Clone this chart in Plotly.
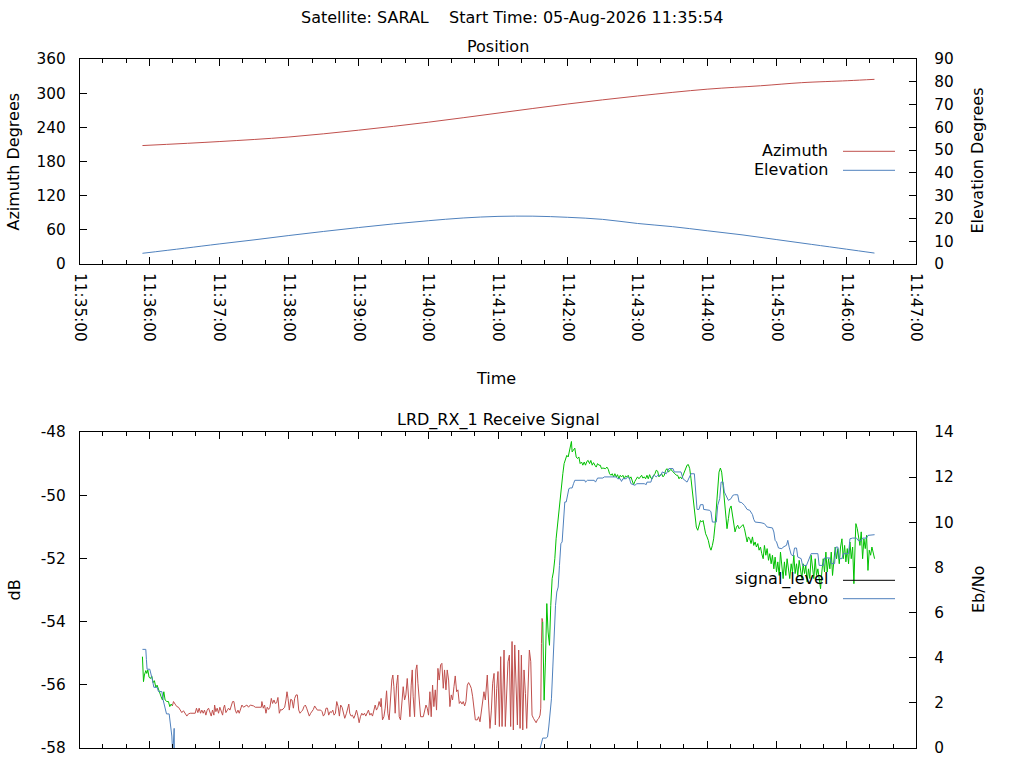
import pandas as pd
import plotly.graph_objects as go

# pass start reference, all times below are seconds after 11:35:00
base = pd.Timestamp("2026-08-05 11:35:00")
t_end = base + pd.Timedelta(minutes=12)

# position
pos_sec = [54, 120, 180, 240, 300, 360, 420, 480, 540, 586, 621, 661, 684]
azimuth = [208, 215, 223, 235, 249, 265, 281, 295, 307, 313, 318.4, 321.9, 324.3]

el_sec = [54, 90, 120, 150, 180, 210, 240, 270, 300, 330, 360, 390, 420, 450, 480,
          510, 540, 570, 600, 630, 660, 684]
elevation = [4.7, 6.9, 8.8, 10.6, 12.5, 14.3, 16.0, 17.6, 19.0, 20.2, 20.9, 21.0, 20.5,
             19.6, 17.8, 16.4, 14.6, 12.8, 10.7, 8.6, 6.5, 4.8]

az_ticks = [0, 60, 120, 180, 240, 300, 360]
el_ticks = [0, 10, 20, 30, 40, 50, 60, 70, 80, 90]
db_ticks = [-58, -56, -54, -52, -50, -48]
ebno_ticks = [0, 2, 4, 6, 8, 10, 12, 14]

# signal level (dB) split by lock state: green = locked, red = not locked
sig_locked_a = [
    (54.0, -55.11), (54.9, -55.90), (55.7, -55.69), (56.9, -55.55), (57.7, -55.64),
    (58.6, -55.53), (59.7, -55.76), (60.9, -55.80), (62.0, -55.72), (63.2, -55.93),
    (64.3, -55.87), (65.5, -56.08), (66.6, -56.01), (67.8, -56.16), (68.9, -56.27),
    (70.1, -56.38), (71.2, -56.48), (72.4, -56.22), (73.5, -56.48), (75.0, -56.53),
    (76.4, -56.53), (77.5, -56.69), (78.7, -56.61), (79.8, -56.67),
]

sig_unlocked = [
    (79.8, -56.67), (80.7, -56.53), (82.1, -56.61), (83.6, -56.69), (85.0, -56.71),
    (86.5, -56.80), (87.9, -56.88), (89.3, -56.82), (90.8, -56.90), (92.2, -56.99),
    (93.6, -56.92), (95.1, -56.90), (99.4, -56.90), (100.5, -56.74), (101.7, -56.88),
    (102.8, -56.74), (104.0, -56.90), (105.1, -56.80), (106.3, -56.90), (107.4, -56.80),
    (108.6, -56.96), (109.7, -56.80), (110.9, -56.74), (112.0, -56.90), (113.2, -56.99),
    (114.3, -56.80), (115.5, -56.96), (116.1, -56.64), (117.2, -56.85), (118.3, -56.74),
    (119.5, -56.90), (120.6, -56.71), (121.8, -56.85), (123.0, -56.96), (123.8, -56.74),
    (124.7, -56.64), (125.8, -56.88), (127.0, -56.80), (128.1, -56.74), (129.3, -56.80),
    (130.4, -56.67), (131.6, -56.53), (132.7, -56.53), (133.9, -56.80), (135.0, -56.90),
    (136.2, -56.80), (137.3, -56.90), (138.5, -56.71), (139.6, -56.64), (141.0, -56.71),
    (142.5, -56.67), (143.9, -56.64), (145.3, -56.71), (146.8, -56.64), (149.7, -56.67),
    (151.1, -56.71), (156.3, -56.71), (156.8, -56.53), (158.0, -56.74), (159.1, -56.64),
    (160.3, -56.90), (161.4, -56.71), (162.6, -56.78), (163.7, -56.71), (164.9, -56.43),
    (166.0, -56.59), (167.2, -56.48), (168.3, -56.59), (169.5, -56.57), (170.6, -56.40),
    (171.8, -56.90), (172.9, -56.78), (174.1, -56.80), (175.2, -56.74), (176.4, -56.71),
    (177.5, -56.48), (178.4, -56.22), (179.3, -56.43), (180.4, -56.80), (181.6, -56.46),
    (182.7, -56.48), (183.9, -56.74), (185.0, -56.43), (186.2, -56.32), (187.3, -56.32),
    (188.5, -56.80), (189.6, -56.90), (190.7, -56.85), (191.9, -56.80), (193.0, -56.69),
    (194.2, -56.64), (195.3, -56.74), (196.5, -56.88), (197.6, -56.99), (198.8, -56.90),
    (199.9, -56.85), (201.1, -56.78), (202.2, -56.67), (203.4, -56.74), (204.5, -56.80),
    (207.4, -56.80), (208.6, -56.85), (209.7, -56.99), (210.9, -56.92), (212.0, -56.74),
    (213.2, -56.74), (214.3, -56.96), (215.5, -56.85), (216.6, -56.88), (217.8, -56.80),
    (218.9, -56.96), (220.1, -56.90), (221.2, -56.53), (222.4, -56.69), (223.5, -56.99),
    (224.6, -56.64), (225.8, -56.71), (226.9, -56.90), (228.1, -57.06), (229.6, -56.90),
    (230.7, -56.74), (231.6, -56.61), (232.4, -56.90), (233.6, -56.99), (234.7, -56.96),
    (235.9, -57.06), (237.0, -56.96), (238.2, -56.80), (239.3, -56.96), (240.5, -57.20),
    (241.6, -57.01), (242.8, -56.90), (243.9, -56.96), (245.1, -56.90), (246.2, -56.99),
    (247.4, -56.90), (248.5, -56.80), (249.7, -56.96), (250.8, -56.90), (252.0, -56.99),
    (253.1, -56.85), (254.3, -56.64), (255.4, -56.80), (256.6, -56.71), (257.7, -56.53),
    (258.9, -56.69), (259.4, -56.43), (260.6, -57.11), (261.8, -57.01), (262.9, -56.74),
    (264.1, -56.19), (265.2, -56.90), (266.3, -57.11), (267.5, -56.22), (268.6, -55.85),
    (269.5, -55.69), (270.4, -56.06), (271.5, -56.90), (272.7, -56.01), (273.8, -55.69),
    (275.0, -57.01), (276.1, -57.11), (277.3, -56.53), (278.4, -56.06), (279.6, -56.48),
    (280.7, -56.32), (281.9, -55.80), (283.0, -56.38), (284.2, -57.01), (285.3, -56.01),
    (286.2, -55.53), (287.0, -56.38), (288.2, -57.01), (289.3, -55.53), (290.2, -55.37),
    (291.1, -55.95), (292.2, -56.53), (293.4, -57.01), (295.7, -57.01), (296.8, -56.80),
    (298.0, -56.64), (299.1, -56.74), (300.2, -56.96), (301.4, -56.22), (302.5, -57.01),
    (303.7, -56.01), (304.8, -56.69), (306.0, -56.16), (307.1, -56.80), (308.3, -55.48),
    (309.4, -55.85), (310.6, -55.37), (311.7, -55.32), (312.9, -56.11), (314.0, -55.53),
    (315.2, -56.16), (316.3, -55.53), (317.5, -55.85), (318.6, -56.69), (319.8, -56.32),
    (320.9, -56.48), (322.1, -56.06), (323.2, -55.72), (324.4, -56.22), (325.5, -56.16),
    (326.7, -56.59), (327.8, -56.53), (329.0, -56.61), (330.1, -56.53), (331.3, -56.67),
    (332.4, -56.53), (333.6, -56.01), (334.7, -55.93), (335.9, -56.01), (337.0, -56.11),
    (338.2, -56.38), (339.3, -56.69), (340.5, -57.11), (342.2, -57.11), (343.3, -57.01),
    (344.5, -57.17), (345.6, -56.85), (346.8, -56.48), (347.9, -56.22), (349.1, -56.48),
    (350.2, -56.01), (350.8, -55.69), (352.0, -56.64), (353.1, -57.38), (354.3, -56.80),
    (355.4, -55.95), (356.6, -55.64), (357.7, -57.27), (358.9, -56.11), (360.0, -55.58),
    (361.2, -57.32), (362.3, -55.11), (363.5, -57.32), (364.6, -56.11), (365.2, -54.90),
    (366.3, -57.32), (367.5, -56.16), (368.6, -55.27), (369.8, -55.06), (370.9, -57.32),
    (372.1, -54.63), (373.2, -57.43), (374.4, -54.74), (375.5, -55.95), (376.7, -57.27),
    (377.8, -54.90), (379.0, -57.38), (380.1, -55.06), (381.3, -57.43), (382.4, -55.53),
    (383.6, -56.27), (384.7, -57.38), (385.9, -56.06), (387.0, -54.90), (388.2, -55.27),
    (389.3, -56.96), (390.5, -57.06), (391.6, -57.11), (392.8, -57.20), (393.9, -57.11),
    (395.1, -57.06), (396.2, -56.96), (396.8, -56.74), (397.4, -54.69), (397.9, -53.90),
    (398.5, -54.01),
]

sig_locked_b = [
    (398.5, -54.01), (399.7, -56.49), (400.8, -55.28), (402.0, -53.43), (403.1, -54.33),
    (404.3, -54.75), (405.4, -53.49), (406.6, -52.64), (407.7, -52.43), (408.9, -52.01),
    (410.0, -51.38), (411.2, -50.95), (412.3, -50.53), (413.5, -49.95), (414.6, -49.58),
    (415.8, -49.32), (416.9, -49.00), (418.1, -48.84), (419.2, -48.74), (420.4, -48.79),
    (421.5, -48.58), (422.7, -48.47), (423.2, -48.30), (423.8, -48.63), (425.0, -48.58),
    (426.1, -48.51), (427.3, -48.79), (428.4, -48.84), (429.6, -48.79), (430.7, -49.00),
    (431.9, -48.95), (433.0, -49.05), (434.2, -48.95), (435.3, -49.05), (436.5, -48.93),
    (437.6, -48.90), (438.8, -49.00), (439.9, -48.90), (441.1, -49.05), (442.2, -48.97),
    (443.4, -49.05), (444.5, -49.11), (445.7, -49.00), (446.8, -49.05), (448.0, -49.05),
    (449.1, -49.16), (450.3, -49.14), (451.4, -49.14), (452.6, -49.16), (453.7, -49.11),
    (454.9, -49.18), (456.0, -49.32), (457.2, -49.37), (458.3, -49.32), (459.5, -49.42),
    (460.6, -49.32), (461.8, -49.42), (462.9, -49.35), (464.0, -49.48), (465.2, -49.37),
    (466.3, -49.42), (467.5, -49.37), (468.6, -49.48), (469.8, -49.39), (470.9, -49.42),
    (472.1, -49.37), (473.2, -49.48), (474.4, -49.42), (475.5, -49.58), (476.7, -49.67),
    (477.8, -49.56), (479.0, -49.50), (480.1, -49.42), (481.3, -49.48), (482.4, -49.42),
    (483.6, -49.37), (484.7, -49.46), (485.9, -49.42), (487.0, -49.48), (488.2, -49.37),
    (489.3, -49.48), (490.5, -49.35), (491.6, -49.46), (492.8, -49.48), (493.9, -49.37),
    (495.1, -49.32), (496.2, -49.21), (497.4, -49.24), (498.5, -49.42), (499.7, -49.35),
    (500.8, -49.32), (502.0, -49.42), (503.1, -49.37), (504.3, -49.21), (505.4, -49.16),
    (506.6, -49.27), (507.7, -49.24), (508.9, -49.18), (510.0, -49.24), (511.2, -49.27),
    (512.3, -49.32), (513.5, -49.37), (514.6, -49.37), (515.8, -49.48), (516.9, -49.42),
    (518.1, -49.48), (519.2, -49.37), (520.4, -49.27), (521.5, -49.11), (522.7, -49.05),
    (523.8, -49.03), (525.0, -49.16), (526.1, -49.48), (527.3, -49.85), (528.4, -50.22),
    (529.6, -50.74), (530.7, -51.01), (531.9, -51.11), (533.0, -50.95), (534.2, -50.80),
    (535.3, -50.85), (536.5, -50.80), (537.6, -51.01), (538.7, -51.22), (539.9, -51.32),
    (541.0, -51.43), (542.2, -51.64), (543.3, -51.74), (544.5, -51.59), (545.6, -51.38),
    (546.8, -50.95), (547.9, -50.43), (549.1, -49.90), (550.2, -49.27), (551.4, -49.14),
    (552.5, -49.27), (553.7, -49.69), (554.8, -50.16), (556.0, -50.58), (557.1, -51.06),
    (558.3, -50.74), (559.4, -50.43), (560.6, -50.34), (561.7, -50.58), (562.9, -50.95),
    (564.0, -51.16), (565.2, -51.01), (566.3, -50.95), (567.5, -51.06), (568.6, -51.01),
    (569.8, -50.95), (570.9, -50.93), (572.1, -51.06), (573.2, -51.27), (574.4, -51.48),
    (575.5, -51.32), (576.7, -51.38), (577.8, -51.53), (579.0, -51.32), (580.1, -51.59),
    (581.3, -51.48), (582.4, -51.64), (583.6, -51.53), (584.7, -51.74), (585.9, -51.64),
    (587.0, -51.85), (588.2, -52.01), (589.3, -51.59), (590.5, -51.90), (591.6, -51.69),
    (592.8, -52.06), (593.9, -51.85), (595.1, -52.17), (596.2, -51.90), (597.4, -52.33),
    (598.5, -51.96), (599.7, -52.43), (600.8, -52.11), (602.0, -52.54), (603.1, -51.80),
    (604.3, -52.33), (605.4, -52.64), (606.5, -52.11), (607.7, -52.54), (608.8, -52.01),
    (610.0, -52.43), (611.1, -52.64), (612.3, -52.17), (613.4, -52.43), (614.6, -51.90),
    (615.7, -52.48), (616.9, -52.17), (618.0, -52.54), (619.2, -52.06), (620.3, -52.43),
    (621.5, -52.64), (622.6, -52.17), (623.8, -52.48), (624.9, -52.22), (626.1, -52.75),
    (627.2, -52.33), (628.4, -52.64), (629.5, -51.90), (630.7, -52.38), (631.8, -52.64),
    (633.0, -52.01), (634.1, -52.54), (635.3, -52.33), (636.4, -52.64), (637.6, -52.96),
    (638.7, -52.43), (639.9, -52.01), (641.0, -52.43), (642.2, -51.80), (643.3, -52.43),
    (644.5, -52.01), (645.6, -52.33), (646.8, -51.80), (647.9, -52.54), (649.1, -52.01),
    (650.2, -51.64), (651.4, -52.01), (652.5, -51.69), (653.7, -52.17), (654.8, -51.64),
    (656.0, -51.38), (657.1, -52.01), (658.3, -51.59), (659.4, -52.11), (660.6, -51.69),
    (661.7, -52.17), (662.9, -51.48), (664.0, -52.01), (665.2, -51.64), (666.3, -52.80),
    (667.5, -51.38), (668.0, -50.90), (669.2, -51.06), (670.3, -51.27), (671.5, -51.59),
    (672.6, -51.16), (673.8, -52.01), (674.9, -51.38), (676.1, -51.69), (677.2, -51.27),
    (678.4, -52.38), (679.5, -51.74), (680.7, -51.90), (681.8, -51.64), (683.0, -51.90),
    (684.1, -52.01),
]

# Eb/No, below the axis (clipped) while unlocked
ebno_pts = [
    (54.0, 4.37), (56.9, 4.37), (57.4, 3.93), (58.0, 3.49), (60.3, 3.49), (61.5, 3.28),
    (62.6, 3.01), (63.8, 2.69), (66.6, 2.69), (67.8, 2.50), (70.7, 2.50), (71.8, 2.13),
    (73.0, 1.86), (74.7, 1.51), (77.0, 1.51), (78.1, 1.09), (79.3, 0.53), (80.1, -0.3),
    (80.7, 0.87), (81.3, 0.87), (81.9, -2.0), (395.5, -2.0), (396.2, -0.03), (397.4, 0.26),
    (398.5, 0.44), (401.4, 0.44), (402.6, 0.49), (403.7, 0.93), (404.9, 1.74), (406.0, 2.18),
    (407.2, 3.59), (408.3, 5.14), (409.5, 6.32), (410.6, 6.91), (411.8, 7.13), (412.9, 8.09),
    (414.1, 9.05), (415.2, 9.13), (416.4, 10.09), (417.5, 10.90), (418.7, 10.90),
    (419.8, 11.27), (421.0, 11.49), (422.1, 11.52), (423.8, 11.52), (425.0, 11.71),
    (426.1, 11.86), (434.7, 11.86), (435.3, 11.78), (437.0, 11.86), (442.8, 11.86),
    (443.9, 11.78), (445.7, 11.96), (450.3, 11.96), (451.4, 12.01), (461.8, 12.01),
    (462.9, 11.93), (465.2, 11.93), (466.3, 11.81), (467.5, 11.93), (470.4, 11.93),
    (471.5, 12.01), (473.2, 11.93), (474.4, 11.71), (477.8, 11.64), (479.5, 11.71),
    (485.9, 11.71), (487.6, 11.67), (488.2, 11.78), (491.6, 11.78), (492.8, 12.01),
    (494.5, 12.08), (496.2, 12.01), (497.4, 12.08), (500.2, 12.08), (501.4, 12.23),
    (504.8, 12.15), (506.0, 12.26), (507.1, 12.38), (510.6, 12.38), (511.7, 12.23),
    (517.5, 12.23), (519.2, 11.93), (522.7, 11.78), (523.8, 11.93), (526.1, 12.15),
    (529.0, 12.15), (530.1, 11.34), (531.3, 10.57), (533.0, 10.57), (534.2, 10.78),
    (536.5, 10.78), (537.0, 10.57), (542.2, 10.53), (543.3, 10.46), (544.5, 10.01),
    (547.9, 10.01), (549.1, 10.75), (550.8, 11.05), (552.0, 11.78), (553.7, 11.78),
    (554.8, 11.34), (556.6, 11.12), (558.3, 10.97), (560.6, 11.05), (562.0, 11.19),
    (563.5, 11.22), (566.3, 11.22), (567.5, 10.90), (569.8, 10.87), (572.1, 10.75),
    (574.4, 10.57), (576.7, 10.53), (579.0, 10.34), (580.1, 10.13), (581.3, 10.01),
    (586.4, 9.98), (589.3, 9.94), (591.6, 9.79), (596.2, 9.75), (597.4, 9.57), (598.5, 9.20),
    (599.7, 9.13), (601.4, 8.86), (604.3, 8.83), (605.4, 8.90), (608.3, 8.98), (609.4, 9.20),
    (610.6, 8.90), (612.3, 8.57), (614.0, 8.51), (615.2, 8.86), (616.9, 8.86), (618.0, 8.46),
    (620.9, 8.39), (622.1, 8.09), (625.5, 8.09), (626.7, 8.24), (627.8, 8.39), (629.5, 8.61),
    (635.3, 8.61), (636.4, 8.09), (639.9, 8.09), (641.0, 8.42), (645.6, 8.42), (646.8, 8.17),
    (649.7, 8.17), (650.8, 8.90), (652.5, 8.90), (653.7, 8.39), (656.0, 8.39), (657.1, 8.61),
    (661.7, 8.61), (662.9, 9.27), (665.2, 9.30), (668.6, 9.30), (669.8, 9.20), (672.6, 9.20),
    (673.8, 9.30), (677.2, 9.30), (678.4, 9.42), (681.3, 9.45), (684.1, 9.45),
]

RED = "#c0504d"
BLUE = "#4f81bd"
GREEN = "#00c000"
FONT = "DejaVu Sans"
W, H = 1024, 768


def ts(secs):
    return base + pd.to_timedelta(list(secs), unit="s")


def split(pts):
    return ts([p[0] for p in pts]), [p[1] for p in pts]


def px(x):
    return x / W


def py(y):
    return 1 - y / H


fig = go.Figure()

fig.add_trace(go.Scatter(x=ts(pos_sec), y=azimuth, mode="lines", line=dict(color=RED, width=1, shape="spline"),
                         xaxis="x", yaxis="y"))
fig.add_trace(go.Scatter(x=ts(el_sec), y=elevation, mode="lines", line=dict(color=BLUE, width=1, shape="spline"),
                         xaxis="x", yaxis="y2"))

for pts, col in [(sig_locked_a, GREEN), (sig_unlocked, RED), (sig_locked_b, GREEN)]:
    xs, ys = split(pts)
    fig.add_trace(go.Scatter(x=xs, y=ys, mode="lines", line=dict(color=col, width=1),
                             xaxis="x2", yaxis="y3"))

xs, ys = split(ebno_pts)
fig.add_trace(go.Scatter(x=xs, y=ys, mode="lines", line=dict(color=BLUE, width=1),
                         xaxis="x2", yaxis="y4"))

dom_x = [px(79.7), px(916.3)]
tick_font = dict(family=FONT, size=15.3, color="black")

time_axis = dict(
    type="date", range=[base, t_end], domain=dom_x, automargin=False,
    tick0=base, dtick=60000, tickformat="%H:%M:%S", tickangle=90,
    ticks="inside", ticklen=7, tickcolor="black",
    minor=dict(dtick=20000, tick0=base, ticks="inside", ticklen=4, tickcolor="black"),
    showline=True, linecolor="black", linewidth=1, mirror="ticks",
    showgrid=False, zeroline=False, tickfont=tick_font, ticklabelstandoff=5,
)

val_axis = dict(
    ticks="inside", ticklen=7, tickcolor="black", showline=True, linecolor="black",
    linewidth=1, showgrid=False, zeroline=False, tickfont=tick_font, automargin=False,
    tickmode="array",
)


def labels(vals):
    # gnuplot prints a plain hyphen for negatives
    return [str(v) for v in vals]


fig.update_layout(
    width=W, height=H, margin=dict(l=0, r=0, t=0, b=0, autoexpand=False),
    paper_bgcolor="white", plot_bgcolor="white", showlegend=False,
    font=dict(family=FONT, size=16, color="black"),
    xaxis=dict(time_axis, anchor="y"),
    xaxis2=dict(time_axis, anchor="y3", showticklabels=False),
    yaxis=dict(val_axis, domain=[py(264), py(59)], range=[0, 360], anchor="x",
               tickvals=az_ticks, ticktext=labels(az_ticks), ticklabelstandoff=10),
    yaxis2=dict(val_axis, overlaying="y", side="right", range=[0, 90], anchor="x",
                tickvals=el_ticks, ticktext=labels(el_ticks), ticklabelstandoff=14),
    yaxis3=dict(val_axis, domain=[py(748), py(432)], range=[-58, -48], anchor="x2",
                tickvals=db_ticks, ticktext=labels(db_ticks), ticklabelstandoff=10),
    yaxis4=dict(val_axis, overlaying="y3", side="right", range=[0, 14], anchor="x2",
                tickvals=ebno_ticks, ticktext=labels(ebno_ticks), ticklabelstandoff=14),
)

texts = [
    ("Satellite: SARAL\u00a0\u00a0\u00a0\u00a0Start Time: 05-Aug-2026 11:35:54", 512, 17.5, 0, "center"),
    ("Position", 498, 46, 0, "center"),
    ("Time", 496, 379, 0, "center"),
    ("LRD_RX_1 Receive Signal", 498, 420, 0, "center"),
    ("Azimuth Degrees", 13, 161.5, -90, "center"),
    ("Elevation Degrees", 977, 160.5, -90, "center"),
    ("dB", 13.5, 590, -90, "center"),
    ("Eb/No", 978, 590, -90, "center"),
    ("Azimuth", 830, 150, 0, "right"),
    ("Elevation", 830, 169.5, 0, "right"),
    ("signal_level", 830, 579, 0, "right"),
    ("ebno", 830, 598, 0, "right"),
]
for txt, x, y, ang, anchor in texts:
    fig.add_annotation(text=txt, x=px(x), y=py(y), xref="paper", yref="paper", showarrow=False,
                       textangle=ang, xanchor=anchor, yanchor="middle",
                       font=dict(family=FONT, size=16, color="black"))

# legend key lines
for y, col in [(151.3, RED), (170.3, BLUE), (580.3, "black"), (598.7, BLUE)]:
    fig.add_shape(type="line", xref="paper", yref="paper", x0=px(843), x1=px(895),
                  y0=py(y), y1=py(y), line=dict(color=col, width=1))

# drop the default page margin so the figure fills the window
fig.write_html("out.html", config={"displayModeBar": False},
               post_script="document.body.style.margin='0px';document.body.style.overflow='hidden';")
